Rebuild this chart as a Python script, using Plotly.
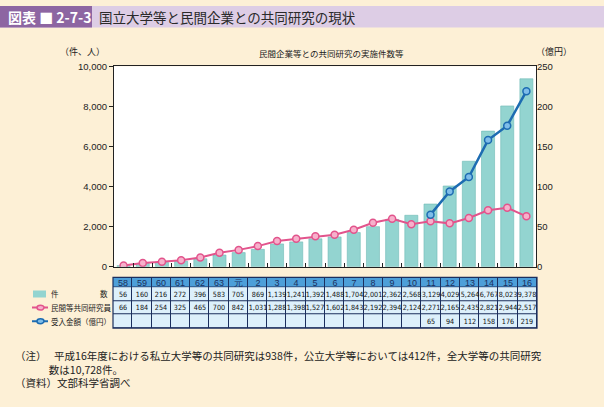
import plotly.graph_objects as go

W, H = 604, 407

categories = ["58", "59", "60", "61", "62", "63", "元", "2", "3", "4", "5", "6", "7",
              "8", "9", "10", "11", "12", "13", "14", "15", "16"]
kensu = [56, 160, 216, 272, 396, 583, 705, 869, 1139, 1241, 1392, 1488, 1704,
         2001, 2362, 2568, 3129, 4029, 5264, 6767, 8023, 9378]
kenkyuin = [66, 184, 254, 325, 465, 700, 842, 1031, 1288, 1398, 1527, 1602, 1843,
            2192, 2394, 2124, 2271, 2165, 2435, 2821, 2944, 2517]
ukeire_cats = ["11", "12", "13", "14", "15", "16"]
ukeire = [65, 94, 112, 158, 176, 219]

row_labels = ["件", "民間等共同研究員", "受入金額（億円）"]
left_ticks = [0, 2000, 4000, 6000, 8000, 10000]
right_ticks = [0, 50, 100, 150, 200, 250]


def px(x):
    return x / W


def py(y):
    return 1 - y / H


BG = "#fdf0d6"
TEAL = "#93d4d0"
PINK = "#e2548c"
PINK_FILL = "#f7b0cb"
BLUE = "#1d6cb2"
BLUE_FILL = "#7ebde9"
NAVY = "#1c2f5e"
HEAD_BLUE = "#4d9fd9"
CELL_BLUE = "#ddf0fb"
JP = "Noto Sans CJK JP"
NUMF = "Liberation Sans Narrow, DejaVu Sans Condensed, Liberation Sans, sans-serif"

fig = go.Figure()

fig.add_trace(go.Bar(x=categories, y=kensu, marker=dict(color=TEAL, line=dict(color="#6fbab6", width=0.6)),
                     xaxis="x", yaxis="y", showlegend=False))
fig.add_trace(go.Scatter(x=categories, y=kenkyuin, mode="lines+markers",
                         line=dict(color=PINK, width=2),
                         marker=dict(symbol="circle", size=7, color=PINK_FILL, line=dict(color=PINK, width=1.5)),
                         xaxis="x", yaxis="y", showlegend=False))
fig.add_trace(go.Scatter(x=ukeire_cats, y=ukeire, mode="lines+markers",
                         line=dict(color=BLUE, width=2.5),
                         marker=dict(symbol="circle", size=7, color=BLUE_FILL, line=dict(color=BLUE, width=1.5)),
                         xaxis="x", yaxis="y3", showlegend=False))

# table as heatmaps (header + data rows)
fmt = lambda v: f"{v:,}"
ukeire_row = []
for c in categories:
    ukeire_row.append(fmt(ukeire[ukeire_cats.index(c)]) if c in ukeire_cats else "")
data_text = [[fmt(v) for v in kensu], [fmt(v) for v in kenkyuin], ukeire_row]

fig.add_trace(go.Heatmap(x=categories, y=[0, 10], z=[[0] * len(categories)],
                         text=[categories], texttemplate="%{text}",
                         textfont=dict(family="Liberation Sans, Arial, sans-serif", size=9, color=NAVY),
                         colorscale=[[0, HEAD_BLUE], [1, HEAD_BLUE]], showscale=False,
                         xgap=1, ygap=1, xaxis="x2", yaxis="y2", hoverinfo="skip"))
fig.add_trace(go.Heatmap(x=categories, y=[10, 24, 38, 52], z=[[0] * len(categories)] * 3,
                         text=data_text, texttemplate="%{text}",
                         textfont=dict(family=NUMF, size=7.2, color="#111111"),
                         colorscale=[[0, CELL_BLUE], [1, CELL_BLUE]], showscale=False,
                         xgap=1, ygap=1, xaxis="x2", yaxis="y2", hoverinfo="skip"))

xdom = [px(114), px(536)]
shapes = [
    # title band
    dict(type="rect", xref="paper", yref="paper", x0=0, x1=1, y0=py(22), y1=1,
         fillcolor="#ddcde5", line=dict(width=0), layer="below"),
    dict(type="rect", xref="paper", yref="paper", x0=0, x1=px(92), y0=py(22), y1=1,
         fillcolor="#8d65a2", line=dict(width=0), layer="below"),
    # table grid background and border
    dict(type="rect", xref="x2 domain", yref="y2 domain", x0=0, x1=1, y0=0, y1=1,
         fillcolor=NAVY, line=dict(width=0), layer="below"),
    dict(type="rect", xref="x2 domain", yref="y2 domain", x0=0, x1=1, y0=0, y1=1,
         fillcolor="rgba(0,0,0,0)", line=dict(color=NAVY, width=1.2), layer="above"),
    # legend symbols
    dict(type="rect", xref="paper", yref="y2", x0=px(33), x1=px(46), y0=13.5, y1=20.5,
         fillcolor=TEAL, line=dict(width=0)),
    dict(type="line", xref="paper", yref="y2", x0=px(32), x1=px(48), y0=31, y1=31,
         line=dict(color=PINK, width=2)),
    dict(type="circle", xref="paper", yref="y2", x0=px(37), x1=px(44), y0=28.5, y1=33.5,
         fillcolor=PINK_FILL, line=dict(color=PINK, width=1.5)),
    dict(type="line", xref="paper", yref="y2", x0=px(32), x1=px(48), y0=45, y1=45,
         line=dict(color=BLUE, width=2)),
    dict(type="circle", xref="paper", yref="y2", x0=px(37), x1=px(44), y0=42.5, y1=47.5,
         fillcolor=BLUE_FILL, line=dict(color=BLUE, width=1.5)),
]

footnote = ("（注）　 平成16年度における私立大学等の共同研究は938件，公立大学等においては412件，全大学等の共同研究"
            "<br>　　　 数は10,728件。"
            "<br>（資料）文部科学省調べ")

annotations = [
    dict(text="<b>図表 ■ 2-7-3</b>", x=px(6), y=py(11), xref="paper", yref="paper",
         xanchor="left", yanchor="middle", showarrow=False,
         font=dict(family=JP, size=14, color="white")),
    dict(text="国立大学等と民間企業との共同研究の現状", x=px(97), y=py(11), xref="paper", yref="paper",
         xanchor="left", yanchor="middle", showarrow=False,
         font=dict(family=JP, size=13.5, color="#2a2a2a")),
    dict(text="（件、人）", x=px(58), y=py(47), xref="paper", yref="paper",
         xanchor="left", yanchor="middle", showarrow=False,
         font=dict(family=JP, size=9, color="#222")),
    dict(text="民間企業等との共同研究の実施件数等", x=px(331), y=py(48), xref="paper", yref="paper",
         xanchor="center", yanchor="middle", showarrow=False,
         font=dict(family=JP, size=8.5, color="#222")),
    dict(text="（億円）", x=px(534), y=py(47), xref="paper", yref="paper",
         xanchor="left", yanchor="middle", showarrow=False,
         font=dict(family=JP, size=9, color="#222")),
    dict(text=footnote, x=px(13), y=py(373), xref="paper", yref="paper",
         xanchor="left", yanchor="middle", align="left",
         showarrow=False, font=dict(family=JP, size=10.5, color="#222")),
    # second character of the first row label (spread across the label width)
    dict(text="数", x=px(110), y=17, xref="paper", yref="y2",
         xanchor="right", yanchor="middle", showarrow=False,
         font=dict(family=JP, size=7.5, color="#222")),
]
ly = [17, 31, 45]
for lab, yv in zip(row_labels, ly):
    annotations.append(dict(text=lab, x=px(49), y=yv, xref="paper", yref="y2",
                            xanchor="left", yanchor="middle", showarrow=False,
                            font=dict(family=JP, size=7.5, color="#222")))

fig.update_layout(
    width=W, height=H, margin=dict(l=0, r=0, t=0, b=0),
    paper_bgcolor=BG, plot_bgcolor="white",
    bargap=0.32, showlegend=False,
    xaxis=dict(domain=xdom, type="category", range=[-0.5, 21.5], showticklabels=False,
               ticks="inside", tickson="boundaries", ticklen=4, tickcolor="#222",
               showline=True, linecolor="#222", linewidth=1.2, mirror=True,
               showgrid=False, zeroline=False, anchor="y"),
    yaxis=dict(domain=[py(268), py(62)], range=[0, 10000], tickvals=left_ticks,
               tickformat=",d", ticks="outside", ticklen=4, tickcolor="#222",
               showline=True, linecolor="#222", linewidth=1.2, mirror=True,
               showgrid=False, zeroline=False,
               tickfont=dict(family="Liberation Sans, Arial, sans-serif", size=9.5, color="#222")),
    yaxis3=dict(overlaying="y", side="right", range=[0, 250], tickvals=right_ticks,
                ticks="", showline=False, showgrid=False, zeroline=False,
                tickfont=dict(family="Liberation Sans, Arial, sans-serif", size=9.5, color="#222")),
    xaxis2=dict(domain=[px(113), px(537)], type="category", range=[-0.5, 21.5],
                showticklabels=False, ticks="", showline=False, showgrid=False,
                zeroline=False, anchor="y2"),
    yaxis2=dict(domain=[py(331), py(279)], range=[52, 0], showticklabels=False,
                ticks="", showline=False, showgrid=False, zeroline=False, anchor="x2"),
    shapes=shapes, annotations=annotations,
)

fig.write_html("out.html")
